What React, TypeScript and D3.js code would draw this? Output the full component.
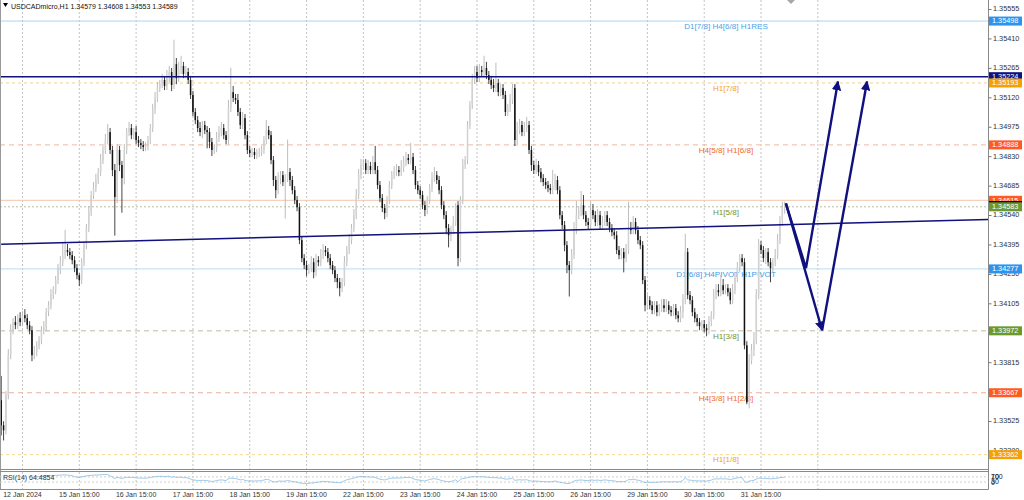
import React from "react";
import * as d3 from "d3";

// ---------- DATA ----------
const SYMBOL = "USDCADmicro,H1";
const LAST_OHLC = ["1.34579", "1.34608", "1.34553", "1.34589"];
const RSI_TEXT = "RSI(14) 64.4854";
const PIP = 0.0001;
const FIRST_OPEN = 1.3363;

// hourly closes, 12 Jan 06:00 .. 31 Jan 22:00
const closes = [
  1.33507, 1.33482, 1.33655, 1.33852, 1.33975, 1.34015, 1.34, 1.34034, 1.34015, 1.34049,
  1.34034, 1.34, 1.33975, 1.33852, 1.33867, 1.33901, 1.33926, 1.33975, 1.3399, 1.34064,
  1.34098, 1.34148, 1.34172, 1.34222, 1.34271, 1.3431, 1.34345, 1.3437, 1.3436, 1.34345,
  1.3432, 1.34281, 1.34246, 1.34222, 1.3431, 1.34394, 1.34478, 1.34557, 1.34641, 1.34675,
  1.34715, 1.34754, 1.34813, 1.34863, 1.34912, 1.34951, 1.34863, 1.34764, 1.34631, 1.34863,
  1.34789, 1.34724, 1.34863, 1.34951, 1.34971, 1.34936, 1.34951, 1.34912, 1.34897, 1.34887,
  1.34877, 1.34882, 1.34912, 1.34971, 1.3506, 1.35119, 1.35168, 1.35188, 1.35208, 1.35178,
  1.35227, 1.35247, 1.35183, 1.35286, 1.35217, 1.35257, 1.35277, 1.35237, 1.35247, 1.35208,
  1.35134, 1.3505, 1.3501, 1.34971, 1.34951, 1.34986, 1.34961, 1.34951, 1.34902, 1.34863,
  1.34872, 1.34922, 1.34951, 1.34971, 1.34936, 1.34912, 1.3507, 1.35148, 1.35119, 1.35109,
  1.3505, 1.34986, 1.3502, 1.34936, 1.34863, 1.34848, 1.34853, 1.34838, 1.34848, 1.34853,
  1.34863, 1.34912, 1.34961, 1.34936, 1.34813, 1.34715, 1.34665, 1.34724, 1.34739, 1.34705,
  1.34724, 1.34754, 1.34715, 1.34665, 1.34616, 1.34581, 1.34419, 1.3433, 1.34296, 1.34271,
  1.34281, 1.3431, 1.34261, 1.3432, 1.3431, 1.34345, 1.3437, 1.3436, 1.3433, 1.34296,
  1.34271, 1.34232, 1.34212, 1.34182, 1.34212, 1.3431, 1.3437, 1.34419, 1.34478, 1.34542,
  1.34641, 1.34739, 1.34789, 1.34798, 1.34764, 1.34784, 1.34764, 1.34803, 1.34764, 1.3469,
  1.34626, 1.34577, 1.34552, 1.34616, 1.3469, 1.34739, 1.34754, 1.34764, 1.34754, 1.34774,
  1.34803, 1.34823, 1.34813, 1.34828, 1.34764, 1.3469, 1.34665, 1.34641, 1.34591, 1.34567,
  1.34616, 1.34675, 1.34724, 1.34739, 1.34715, 1.34665, 1.34591, 1.34542, 1.34478, 1.34443,
  1.34468, 1.34508, 1.34591, 1.3433, 1.34616, 1.34789, 1.34813, 1.34986, 1.35084, 1.35208,
  1.35247, 1.35217, 1.35257, 1.35247, 1.35267, 1.35232, 1.35208, 1.35183, 1.35168, 1.35193,
  1.35148, 1.35168, 1.35134, 1.3505, 1.3507, 1.35109, 1.35168, 1.34912, 1.34961, 1.34986,
  1.34951, 1.34971, 1.34986, 1.34863, 1.34789, 1.34764, 1.34789, 1.34754, 1.34724, 1.34705,
  1.3469, 1.34675, 1.34665, 1.34685, 1.34715, 1.34665, 1.34542, 1.34493, 1.34394, 1.34296,
  1.34271, 1.34345, 1.34468, 1.34542, 1.34557, 1.34591, 1.34542, 1.34508, 1.34493, 1.34567,
  1.34542, 1.34508, 1.34542, 1.34493, 1.34508, 1.34542, 1.34508, 1.34478, 1.34458, 1.34443,
  1.3437, 1.34345, 1.3436, 1.3433, 1.3437, 1.34478, 1.34468, 1.34508, 1.34468, 1.34419,
  1.34394, 1.34222, 1.34098, 1.34123, 1.34098, 1.34074, 1.34098, 1.34064, 1.34084, 1.34098,
  1.34084, 1.34098, 1.34074, 1.34064, 1.34084, 1.34049, 1.34034, 1.34064, 1.34123, 1.3436,
  1.34148, 1.34123, 1.34064, 1.34034, 1.34015, 1.33995, 1.34005, 1.33985, 1.33975, 1.34015,
  1.34049, 1.34148, 1.34172, 1.34162, 1.34197, 1.34172, 1.34182, 1.34162, 1.34123, 1.34172,
  1.34232, 1.34281, 1.3433, 1.3431, 1.33901, 1.3362, 1.33827, 1.33877, 1.33926, 1.34148,
  1.34394, 1.3437, 1.3433, 1.3436, 1.3431, 1.34281, 1.3431, 1.34345, 1.34419, 1.34508,
  1.34579, 1.34589,
];

// upper / lower shadows in pips
const upperWicks = [
  12, 2, 2, 3, 3, 2, 3, 2, 3, 2, 3, 2, 2, 2, 3, 2, 2, 2, 3, 2,
  2, 3, 2, 2, 3, 3, 6, 10, 3, 2, 2, 2, 2, 1, 2, 2, 2, 3, 2, 3,
  3, 2, 3, 2, 3, 4, 2, 2, 3, 3, 2, 2, 3, 2, 3, 2, 2, 3, 2, 2,
  2, 2, 2, 2, 3, 3, 3, 2, 3, 2, 3, 3, 2, 12, 3, 4, 5, 2, 3, 2,
  2, 2, 2, 2, 3, 2, 2, 2, 2, 2, 2, 3, 3, 3, 2, 2, 4, 12, 3, 2,
  3, 2, 3, 2, 2, 2, 2, 2, 2, 2, 2, 2, 5, 2, 2, 2, 2, 3, 2, 2,
  2, 16, 2, 2, 2, 2, 2, 2, 2, 2, 2, 3, 2, 3, 2, 3, 3, 2, 2, 2,
  2, 2, 2, 2, 2, 3, 2, 3, 2, 3, 3, 3, 3, 2, 2, 3, 2, 3, 8, 2,
  2, 2, 2, 2, 2, 2, 3, 3, 2, 4, 3, 3, 2, 7, 2, 2, 2, 2, 2, 2,
  2, 2, 3, 4, 2, 2, 2, 2, 2, 2, 2, 3, 1, 2, 2, 3, 2, 2, 2, 3,
  3, 3, 3, 2, 6, 3, 2, 2, 3, 10, 2, 2, 2, 2, 2, 3, 2, 2, 4, 3,
  2, 3, 4, 2, 2, 2, 3, 2, 2, 2, 2, 2, 2, 8, 3, 2, 2, 2, 2, 2,
  2, 3, 4, 7, 3, 7, 5, 2, 2, 4, 3, 2, 3, 2, 3, 2, 2, 2, 2, 2,
  2, 2, 2, 2, 3, 13, 3, 3, 2, 2, 2, 2, 2, 3, 2, 2, 2, 2, 2, 3,
  3, 3, 2, 2, 2, 2, 2, 3, 3, 9, 2, 2, 2, 2, 2, 2, 2, 2, 2, 3,
  2, 3, 3, 3, 5, 3, 2, 2, 2, 3, 3, 3, 2, 2, 2, 2, 3, 3, 4, 3,
  3, 2, 2, 2, 2, 2, 2, 3, 3, 3, 3, 2,
];
const lowerWicks = [
  5, 5, 2, 2, 2, 2, 2, 2, 2, 2, 2, 2, 2, 3, 2, 2, 2, 2, 2, 2,
  2, 2, 2, 2, 2, 2, 2, 2, 2, 2, 2, 2, 2, 3, 2, 2, 2, 2, 2, 2,
  2, 2, 2, 2, 2, 2, 2, 3, 19, 3, 3, 17, 3, 2, 2, 2, 2, 2, 2, 2,
  2, 2, 2, 2, 2, 2, 2, 2, 2, 2, 2, 3, 3, 2, 3, 2, 2, 2, 2, 2,
  2, 2, 2, 2, 2, 3, 2, 8, 3, 3, 2, 2, 2, 2, 2, 2, 2, 2, 2, 2,
  2, 2, 2, 2, 2, 2, 2, 2, 2, 2, 2, 2, 2, 2, 2, 3, 4, 2, 3, 2,
  18, 2, 3, 2, 2, 2, 2, 2, 2, 3, 2, 2, 3, 2, 2, 2, 2, 2, 2, 2,
  2, 2, 3, 4, 2, 2, 2, 2, 2, 2, 2, 2, 2, 2, 2, 2, 2, 2, 2, 2,
  2, 2, 3, 2, 2, 2, 2, 2, 2, 2, 2, 2, 2, 2, 2, 2, 2, 2, 2, 3,
  2, 2, 2, 2, 2, 2, 2, 2, 3, 6, 3, 2, 2, 4, 2, 2, 2, 2, 2, 2,
  2, 2, 2, 2, 2, 2, 2, 2, 2, 2, 2, 2, 2, 2, 2, 2, 2, 3, 2, 2,
  2, 2, 2, 2, 3, 2, 2, 2, 2, 2, 2, 2, 2, 2, 2, 2, 2, 2, 3, 4,
  13, 2, 2, 2, 2, 2, 2, 2, 2, 2, 2, 2, 2, 2, 2, 2, 2, 2, 2, 2,
  2, 2, 2, 7, 2, 2, 2, 2, 2, 2, 2, 2, 3, 2, 2, 2, 2, 2, 2, 2,
  2, 2, 2, 2, 2, 2, 2, 2, 3, 2, 2, 2, 2, 2, 2, 2, 2, 2, 3, 2,
  2, 2, 2, 2, 2, 2, 2, 2, 2, 2, 2, 2, 2, 2, 2, 1, 3, 2, 3, 2,
  2, 2, 2, 3, 2, 7, 2, 2, 2, 2, 2, 3,
];

const timeLabels = [
  "12 Jan 2024", "15 Jan 15:00", "16 Jan 15:00", "17 Jan 15:00", "18 Jan 15:00",
  "19 Jan 15:00", "22 Jan 15:00", "23 Jan 15:00", "24 Jan 15:00", "25 Jan 15:00",
  "26 Jan 15:00", "29 Jan 15:00", "30 Jan 15:00", "31 Jan 15:00",
];
const FIRST_LABEL_BAR = 9;
const BARS_PER_DAY = 24;
const GRID_COUNT = 15;

const priceTicks = [
  1.35555, 1.3541, 1.35265, 1.3512, 1.34975, 1.3483, 1.34685, 1.3454,
  1.34395, 1.3425, 1.34105, 1.3396, 1.33815, 1.3367, 1.33525, 1.3338,
];

const levelPrices = [1.35498, 1.35224, 1.35193, 1.34888, 1.34615, 1.34583, 1.34277, 1.33972, 1.33667, 1.33362];
const levelNames = [
  "D1[7/8] H4[6/8] H1RES", "", "H1[7/8]", "H4[5/8] H1[6/8]", "", "H1[5/8]",
  "D1[6/8] H4PIVOT H1PIVOT", "H1[3/8]", "H4[3/8] H1[2/8]", "H1[1/8]",
];
const BID = 1.34589;

// trend line anchors: [bar index, price]
const trendAnchors: [number, number][] = [[0, 1.34399], [417, 1.3452]];
// forecast arrows: [bar index, price]
const forecastA: [number, number][] = [[331.5, 1.346], [340, 1.34281], [353.5, 1.352]];
const forecastB1: [number, number][] = [[331.5, 1.346], [346.8, 1.33975]];
const forecastB2: [number, number][] = [[346.8, 1.33975], [365.8, 1.352]];

const rsiLevels = [100, 70, 30, 0];
const RSI_PERIOD = 14;

// ---------- STYLES ----------
const FONT = "'Liberation Sans', Arial, sans-serif";
const NAVY = "#10107e";
const BLUE_BOX = "#2e93ee";
const ORANGE_BOX = "#f5a100";
const RED_BOX = "#ff5a1f";
const GREEN_BOX = "#6b9a2b";
const levelStyles = [
  { stroke: "#a9d4f4", dash: "", width: 1, text: "#4ea3e6", box: BLUE_BOX },
  { stroke: NAVY, dash: "", width: 1.6, text: "", box: NAVY },
  { stroke: "#f7cf8c", dash: "3,3", width: 1, text: "#f0a22a", box: ORANGE_BOX },
  { stroke: "#f1b89e", dash: "5,4", width: 1, text: "#ef6a2c", box: RED_BOX },
  { stroke: "#efc7ae", dash: "", width: 1, text: "", box: RED_BOX },
  { stroke: "#b9bca4", dash: "2,2", width: 1, text: "#74962f", box: GREEN_BOX },
  { stroke: "#b8dcf4", dash: "", width: 1, text: "#3f9ce8", box: BLUE_BOX },
  { stroke: "#c2b9a2", dash: "5,4", width: 1, text: "#74962f", box: GREEN_BOX },
  { stroke: "#ebb29c", dash: "5,4", width: 1, text: "#ef6a2c", box: RED_BOX },
  { stroke: "#f7d88e", dash: "3,3", width: 1, text: "#f0a22a", box: ORANGE_BOX },
];

function computeRSI(c: number[], n: number): (number | null)[] {
  const out: (number | null)[] = c.map(() => null);
  if (c.length <= n) return out;
  let g = 0, l = 0;
  for (let i = 1; i <= n; i++) {
    const d = c[i] - c[i - 1];
    if (d > 0) g += d; else l -= d;
  }
  g /= n; l /= n;
  out[n] = l === 0 ? 100 : 100 - 100 / (1 + g / l);
  for (let i = n + 1; i < c.length; i++) {
    const d = c[i] - c[i - 1];
    g = (g * (n - 1) + Math.max(d, 0)) / n;
    l = (l * (n - 1) + Math.max(-d, 0)) / n;
    out[i] = l === 0 ? 100 : 100 - 100 / (1 + g / l);
  }
  return out;
}

export default function App() {
  const W = 1024, H = 500;
  const axisX = 988.5;
  const mainBottom = 469.5;
  const rsiTop = 471.5, rsiBottom = 489.5;

  const x = d3.scaleLinear().domain([0, closes.length - 1]).range([1.2, 784.7]);
  const y = d3.scaleLinear().domain([1.3338, 1.35555]).range([451, 9.5]);
  const ry = d3.scaleLinear().domain([0, 100]).range([486, 473]);

  const bars = closes.map((c, i) => {
    const o = i === 0 ? FIRST_OPEN : closes[i - 1];
    const hi = Math.max(o, c) + upperWicks[i] * PIP;
    const lo = Math.min(o, c) - lowerWicks[i] * PIP;
    return { i, o, c, hi, lo };
  });

  const rsi = computeRSI(closes, RSI_PERIOD);
  const rsiLine = d3.line<number | null>()
    .defined((d) => d !== null)
    .x((_, i) => x(i))
    .y((d) => ry(d as number));

  const ptLine = d3.line<[number, number]>().x((d) => x(d[0])).y((d) => y(d[1]));

  const gridBars = d3.range(GRID_COUNT).map((k) => FIRST_LABEL_BAR + k * BARS_PER_DAY);

  const bodyW = 1.5;

  const boxes: { p: number; bg: string }[] = [];
  levelPrices.forEach((p, k) => {
    boxes.push({ p, bg: levelStyles[k].box });
    if (k === 4) boxes.push({ p: BID, bg: "#000000" });
  });

  const labelX = 726;
  // RSI scale labels are squeezed inside the tiny pane, as in the terminal
  const rsiLabelY = (v: number) => Math.min(Math.max(ry(v), 476.8), 483);

  return (
    <div style={{ position: "fixed", left: 0, top: 0, width: W, height: H, background: "#fff" }}>
      <svg width={W} height={H} style={{ display: "block", fontFamily: FONT }}>
        <defs>
          <clipPath id="mainClip">
            <rect x={0} y={0} width={axisX} height={mainBottom} />
          </clipPath>
          <clipPath id="rsiClip">
            <rect x={0} y={rsiTop} width={axisX} height={rsiBottom - rsiTop} />
          </clipPath>
          <marker id="arr" viewBox="0 0 10 10" refX="9" refY="5" markerWidth="4" markerHeight="4"
            orient="auto" markerUnits="strokeWidth">
            <path d="M0,0 L10,5 L0,10 z" fill={NAVY} />
          </marker>
        </defs>
        <rect x={0} y={0} width={W} height={H} fill="#fff" />

        {gridBars.map((b) => (
          <line key={"g" + b} x1={x(b)} x2={x(b)} y1={0} y2={rsiBottom}
            stroke="#c4c4c4" strokeDasharray="2,2" strokeWidth={1} />
        ))}

        <g clipPath="url(#mainClip)">
          {levelPrices.map((p, k) => (
            k === 1 ? null : (
              <line key={"l" + k} x1={0} x2={axisX} y1={y(p)} y2={y(p)}
                stroke={levelStyles[k].stroke} strokeWidth={levelStyles[k].width}
                strokeDasharray={levelStyles[k].dash || undefined} />
            )
          ))}
          {levelPrices.map((p, k) => (
            levelNames[k] ? (
              <text key={"t" + k} x={labelX} y={y(p) + 7.8} textAnchor="middle"
                fontSize={8.1} fill={levelStyles[k].text}>{levelNames[k]}</text>
            ) : null
          ))}

          {bars.map((b) => {
            const bull = b.c >= b.o;
            const cx = x(b.i);
            const top = y(Math.max(b.o, b.c));
            const bot = y(Math.min(b.o, b.c));
            const h = Math.max(bot - top, 0.8);
            return (
              <g key={"c" + b.i}>
                <line x1={cx} x2={cx} y1={y(b.hi)} y2={y(b.lo)}
                  stroke={bull ? "#b4b4b4" : "#303030"} strokeWidth={0.9} />
                <rect x={cx - bodyW / 2} y={top} width={bodyW} height={h}
                  fill={bull ? "#d2d2d2" : "#111111"} />
              </g>
            );
          })}

          <line x1={0} x2={axisX} y1={y(levelPrices[1])} y2={y(levelPrices[1])}
            stroke={NAVY} strokeWidth={levelStyles[1].width} />
          <line x1={x(trendAnchors[0][0])} y1={y(trendAnchors[0][1])}
            x2={x(trendAnchors[1][0])} y2={y(trendAnchors[1][1])}
            stroke={NAVY} strokeWidth={1.5} />
          <path d={ptLine(forecastA) || ""} fill="none" stroke={NAVY} strokeWidth={2.4}
            strokeLinejoin="miter" markerEnd="url(#arr)" />
          <path d={ptLine(forecastB1) || ""} fill="none" stroke={NAVY} strokeWidth={2.4}
            markerEnd="url(#arr)" />
          <path d={ptLine(forecastB2) || ""} fill="none" stroke={NAVY} strokeWidth={2.4}
            markerEnd="url(#arr)" />
        </g>

        <line x1={0.5} x2={0.5} y1={0} y2={rsiBottom} stroke="#9a9a9a" />
        <line x1={axisX} x2={axisX} y1={0} y2={rsiBottom} stroke="#8a8a8a" />
        <line x1={0} x2={axisX} y1={mainBottom} y2={mainBottom} stroke="#8a8a8a" />
        <line x1={0} x2={axisX} y1={rsiTop} y2={rsiTop} stroke="#8a8a8a" />
        <line x1={0} x2={axisX} y1={rsiBottom} y2={rsiBottom} stroke="#8a8a8a" />

        <g clipPath="url(#rsiClip)">
          {[70, 30].map((v) => (
            <line key={"rl" + v} x1={0} x2={axisX} y1={ry(v)} y2={ry(v)}
              stroke="#d0d0d0" strokeDasharray="2,2" />
          ))}
          <path d={rsiLine(rsi) || ""} fill="none" stroke="#93c3e4" strokeWidth={0.9} />
        </g>
        <text x={3} y={479.5} fontSize={7} fill="#333">{RSI_TEXT}</text>
        {rsiLevels.map((v) => (
          <text key={"rv" + v} x={991} y={rsiLabelY(v)} dominantBaseline="middle" fontSize={7} fill="#222">{v}</text>
        ))}

        {priceTicks.map((p) => (
          <g key={"pt" + p}>
            <line x1={axisX} x2={axisX + 3} y1={y(p)} y2={y(p)} stroke="#777" />
            <text x={993} y={y(p)} dominantBaseline="middle" fontSize={7.3} fill="#333">{p.toFixed(5)}</text>
          </g>
        ))}
        {boxes.map((b, k) => (
          <g key={"bx" + k}>
            <rect x={989} y={y(b.p) - 4.5} width={33} height={9} fill={b.bg} />
            <text x={992} y={y(b.p) + 0.3} dominantBaseline="middle" fontSize={7.3} fill="#fff">{b.p.toFixed(5)}</text>
          </g>
        ))}

        {timeLabels.map((t, k) => (
          <text key={"tl" + k} x={x(gridBars[k])} y={497} textAnchor="middle" fontSize={7} fill="#333">{t}</text>
        ))}

        <path d="M3,3 L8,3 L5.5,7 Z" fill="#000" />
        <text x={11} y={8.5} fontSize={7} fill="#111">
          {SYMBOL + "  " + LAST_OHLC.join(" ")}
        </text>
        <path d="M787,0 L795,0 L791,4 Z" fill="#a8a8a8" />
      </svg>
    </div>
  );
}
